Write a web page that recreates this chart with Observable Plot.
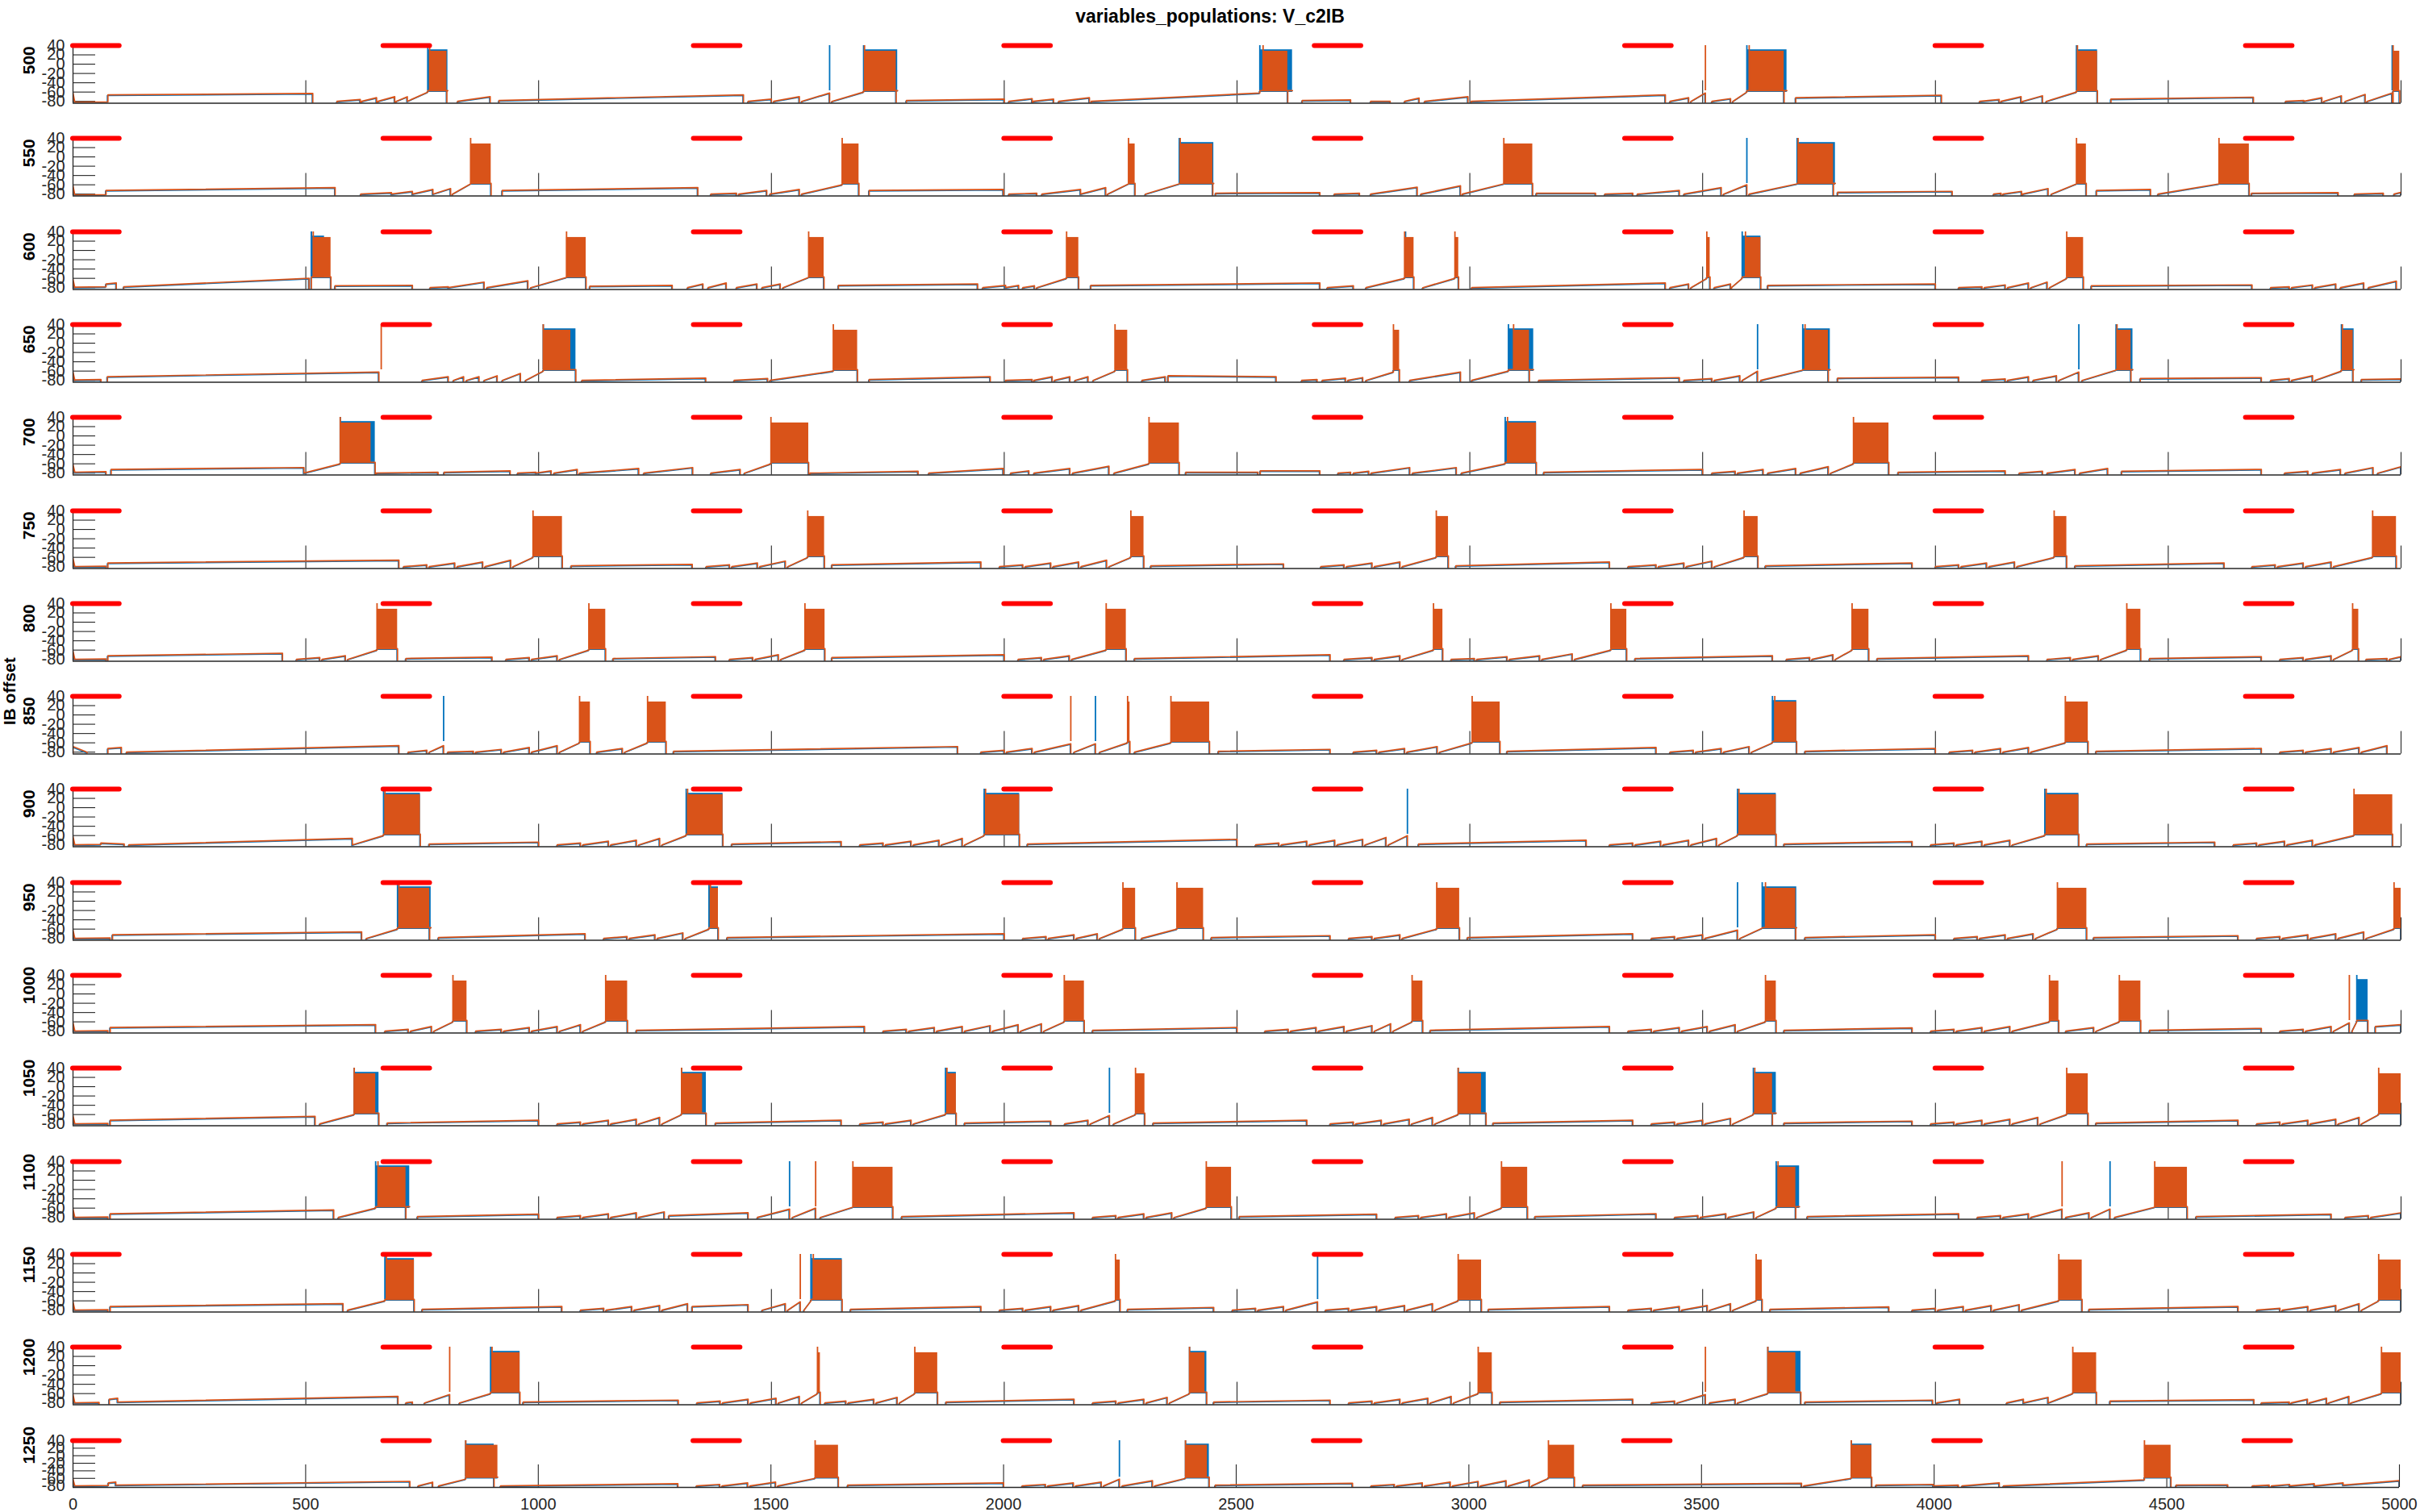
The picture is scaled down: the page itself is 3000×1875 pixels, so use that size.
<!DOCTYPE html>
<html><head><meta charset="utf-8">
<script src="https://cdn.jsdelivr.net/npm/d3@7"></script>
<script src="https://cdn.jsdelivr.net/npm/@observablehq/plot@0.6"></script>
<style>
body{margin:0;background:#fff;}
#fig{position:relative;width:3000px;height:1875px;overflow:hidden;font-family:"Liberation Sans",Arial,Helvetica,sans-serif;background:#fff;}
#title{position:absolute;left:0;width:3000px;top:6px;text-align:center;font-weight:bold;font-size:23px;color:#000;line-height:28px;}
.row{position:absolute;left:0;}
</style></head><body><div id="fig"><div id="title">variables_populations: V_c2IB</div></div>
<script>
// ---------------- DATA ----------------
const offsets = [500,550,600,650,700,750,800,850,900,950,1000,1050,1100,1150,1200,1250];
const ibLabel = "IB offset", ibLabelRow = 850;
const xTickLabels = [0,500,1000,1500,2000,2500,3000,3500,4000,4500,5000];
const xTickInner = [500,1000,1500,2000,2500,3000,3500,4000,4500,5000];
const yTickLabels = [40,20,0,-20,-40,-60,-80];
const yTickInner = [40,20,0,-20,-40,-60,-80];
const stimStart = [0,666.7,1333.3,2000,2666.7,3333.3,4000,4666.7];
const stimLen = 100, stimLevel = 40;
const yMin = -84, yMax = 40;
const toothBase = -80, burstLow = -57, burstTop = 28, burstTopB = 31, spikeTop = 40, floorV = -90;

// plateaus: [t0, t1, v0, v1]
const plateaus = [
 [[0,4,-62,-82],[4,75,-82,-81],[75,515,-66,-63],[915,1440,-78,-66],[1790,2000,-78,-75],[2187,2549,-80,-62],[2640,2744,-78,-77],[3003,3420,-80,-66],[3700,4013,-72,-67],[4377,4683,-75,-71]],
 [[0,4,-62,-82],[4,71,-82,-81],[71,563,-72,-66],[922,1342,-72,-66],[1710,1998,-72,-70],[2454,2678,-78,-77],[3143,3270,-78,-78],[3790,4036,-76,-74],[4346,4462,-72,-70],[4679,4865,-78,-77]],
 [[0,4,-62,-80],[4,71,-79,-78],[71,93,-72,-70],[109,507,-78,-60],[563,729,-76,-75],[1110,1287,-77,-75],[1644,1943,-75,-72],[2186,2678,-75,-70],[3004,3420,-80,-70],[3640,4000,-75,-72],[4335,4680,-76,-74]],
 [[0,4,-62,-80],[4,60,-79,-78],[74,657,-72,-62],[1093,1359,-80,-75],[1710,1970,-78,-72],[2352,2584,-70,-72],[3148,3450,-80,-74],[3790,4050,-75,-73],[4440,4700,-76,-74],[4915,5000,-78,-77]],
 [[0,4,-62,-78],[4,71,-78,-77],[82,496,-72,-68],[651,784,-80,-78],[797,939,-78,-75],[1088,1215,-80,-70],[1583,1815,-80,-76],[1838,1998,-80,-70],[2390,2545,-78,-78],[2550,2678,-75,-75],[3159,3500,-78,-72],[3920,4150,-78,-75],[4400,4700,-76,-72]],
 [[0,4,-62,-80],[4,71,-80,-79],[75,700,-72,-66],[1070,1330,-78,-75],[1630,1950,-76,-70],[2315,2600,-78,-74],[2970,3300,-78,-70],[3635,3950,-78,-72],[4300,4620,-78,-72]],
 [[0,4,-62,-80],[4,71,-80,-79],[75,450,-72,-67],[715,900,-78,-75],[1160,1380,-78,-74],[1630,2000,-76,-70],[2280,2700,-78,-70],[3355,3650,-78,-72],[3875,4200,-78,-72],[4460,4700,-78,-74]],
 [[0,30,-68,-80],[75,104,-72,-70],[115,700,-80,-66],[1290,1900,-78,-68],[2460,2700,-78,-74],[3080,3400,-78,-70],[3720,4000,-78,-72],[4345,4700,-78,-72]],
 [[0,4,-62,-80],[4,60,-80,-79],[60,110,-76,-78],[120,600,-80,-66],[765,1000,-78,-74],[1415,1650,-78,-73],[2050,2500,-78,-68],[2890,3250,-78,-70],[3675,3950,-78,-73],[4325,4600,-78,-74]],
 [[0,4,-62,-80],[4,80,-80,-79],[85,620,-72,-66],[785,1100,-78,-70],[1405,2000,-78,-70],[2445,2700,-78,-74],[2995,3350,-78,-70],[3720,4000,-78,-72],[4340,4650,-78,-74]],
 [[0,4,-62,-80],[4,75,-80,-79],[80,650,-72,-66],[1210,1700,-78,-70],[2190,2500,-78,-72],[2915,3300,-78,-70],[3675,3950,-78,-73],[4460,4700,-78,-74],[4945,5000,-70,-66]],
 [[0,4,-62,-80],[4,75,-80,-79],[80,520,-72,-64],[675,1000,-78,-72],[1380,1650,-78,-72],[1915,2100,-78,-74],[2320,2650,-78,-72],[3050,3350,-78,-72],[3675,3950,-78,-74],[4345,4650,-78,-72]],
 [[0,4,-62,-80],[4,75,-80,-79],[80,560,-72,-64],[740,1000,-78,-73],[1280,1450,-76,-70],[1780,2150,-78,-70],[2505,2800,-78,-73],[3140,3400,-78,-72],[3725,4050,-78,-72],[4560,4850,-78,-73]],
 [[0,4,-62,-80],[4,75,-80,-79],[80,580,-72,-66],[750,1050,-78,-72],[1330,1450,-72,-68],[1670,1950,-78,-72],[2265,2450,-78,-74],[3040,3300,-78,-72],[3645,3900,-78,-73],[4330,4650,-78,-72]],
 [[0,4,-62,-80],[4,56,-80,-79],[78,96,-72,-70],[96,698,-78,-66],[967,1300,-78,-74],[1875,2150,-78,-72],[2450,2700,-78,-74],[3065,3350,-78,-72],[3720,3994,-78,-74],[4375,4684,-76,-73]],
 [[0,4,-62,-80],[4,76,-80,-79],[76,92,-72,-70],[92,724,-78,-68],[919,1300,-80,-74],[1665,2000,-78,-72],[2455,2750,-78,-73],[3245,3715,-78,-73],[3875,3998,-78,-76],[4149,4452,-80,-64],[4520,4631,-78,-77],[4879,5000,-78,-66]]
];

// sawtooth teeth: [t0, t1, value at t1]
const teeth = [
 [[567,617,-76],[620,652,-72],[655,691,-70],[694,718,-70],[718,762,-60],[826,896,-70],[1450,1500,-75],[1505,1560,-70],[1565,1625,-62],[1630,1698,-60],[2010,2060,-74],[2062,2106,-75],[2117,2183,-72],[2787,2829,-80],[2860,2891,-73],[2903,2996,-70],[3430,3470,-72],[3475,3506,-62],[3520,3560,-74],[3565,3595,-60],[4095,4137,-76],[4141,4184,-70],[4187,4230,-68],[4238,4303,-60],[4752,4791,-78],[4791,4830,-72],[4834,4872,-68],[4880,4923,-65],[4927,4981,-62]],
 [[618,684,-77],[684,729,-74],[729,773,-70],[773,811,-68],[815,854,-58],[1370,1425,-78],[1430,1490,-72],[1497,1560,-70],[1565,1652,-60],[2010,2070,-78],[2081,2164,-70],[2164,2218,-66],[2222,2267,-58],[2303,2376,-58],[2709,2763,-78],[2787,2887,-65],[2895,2980,-62],[2984,3073,-58],[3290,3350,-78],[3360,3450,-72],[3460,3540,-66],[3545,3595,-60],[3600,3703,-58],[4125,4141,-78],[4145,4185,-74],[4187,4242,-68],[4249,4303,-58],[4478,4609,-58],[4900,4962,-78],[4985,5000,-76]],
 [[767,806,-78],[806,883,-68],[889,977,-65],[983,1060,-58],[1320,1353,-72],[1364,1403,-70],[1425,1469,-72],[1480,1519,-72],[1525,1580,-58],[1954,2003,-75],[2003,2031,-75],[2040,2065,-76],[2070,2134,-60],[2694,2750,-76],[2777,2860,-60],[2899,2968,-60],[3430,3470,-72],[3475,3509,-60],[3525,3560,-72],[3562,3585,-60],[4050,4100,-78],[4105,4150,-74],[4155,4200,-70],[4205,4240,-68],[4245,4282,-60],[4720,4760,-78],[4765,4810,-74],[4815,4860,-72],[4870,4920,-70],[4930,4990,-66]],
 [[750,806,-72],[817,839,-72],[845,872,-72],[883,911,-70],[922,961,-65],[972,1010,-60],[1420,1492,-76],[1497,1633,-60],[2003,2060,-78],[2064,2103,-72],[2108,2141,-72],[2152,2180,-72],[2191,2238,-60],[2296,2346,-72],[2639,2672,-78],[2683,2733,-75],[2738,2770,-74],[2777,2836,-62],[2871,2980,-62],[3004,3083,-60],[3460,3520,-76],[3525,3580,-70],[3585,3618,-60],[3625,3715,-58],[4100,4150,-77],[4155,4200,-72],[4210,4260,-70],[4265,4308,-62],[4315,4388,-58],[4720,4760,-76],[4765,4810,-70],[4815,4872,-60]],
 [[496,574,-60],[955,994,-78],[994,1027,-75],[1033,1083,-72],[1226,1331,-68],[1370,1433,-72],[1442,1499,-60],[2014,2053,-75],[2064,2141,-70],[2147,2225,-65],[2236,2311,-60],[2717,2744,-78],[2750,2783,-76],[2788,2871,-68],[2877,2971,-68],[2982,3076,-60],[3520,3570,-76],[3575,3630,-72],[3640,3700,-70],[3710,3770,-66],[3775,3824,-60],[4180,4230,-76],[4240,4300,-72],[4310,4370,-70],[4750,4800,-76],[4810,4870,-72],[4880,4940,-68],[4950,5000,-66]],
 [[710,760,-76],[765,820,-72],[825,880,-70],[885,940,-66],[945,988,-60],[1360,1410,-76],[1415,1470,-72],[1475,1530,-68],[1535,1578,-60],[1990,2040,-76],[2045,2100,-72],[2105,2160,-70],[2165,2220,-66],[2225,2272,-60],[2680,2730,-76],[2735,2790,-72],[2795,2850,-70],[2855,2928,-60],[3340,3400,-76],[3405,3460,-72],[3465,3520,-68],[3525,3589,-60],[4000,4050,-76],[4055,4110,-72],[4115,4170,-70],[4175,4255,-60],[4680,4730,-76],[4735,4790,-72],[4795,4850,-70],[4855,4939,-60]],
 [[480,530,-76],[535,585,-72],[590,653,-60],[930,980,-76],[985,1040,-72],[1045,1108,-60],[1410,1460,-76],[1465,1515,-70],[1520,1572,-60],[2030,2080,-76],[2085,2140,-72],[2145,2219,-60],[2730,2790,-76],[2795,2850,-72],[2855,2922,-60],[2960,3010,-78],[3015,3080,-74],[3085,3150,-72],[3155,3220,-68],[3225,3303,-60],[3680,3730,-76],[3735,3780,-70],[3785,3821,-60],[4240,4290,-76],[4295,4350,-72],[4355,4411,-60],[4740,4790,-76],[4795,4850,-72],[4855,4896,-60],[4925,4970,-78],[4975,5000,-74]],
 [[720,760,-76],[765,796,-66],[805,860,-78],[865,920,-74],[925,980,-70],[985,1040,-66],[1045,1088,-60],[1125,1180,-72],[1185,1234,-60],[1950,2000,-76],[2005,2060,-72],[2065,2143,-62],[2150,2196,-62],[2205,2265,-60],[2280,2358,-60],[2750,2800,-76],[2805,2860,-72],[2865,2930,-68],[2935,3005,-60],[3430,3480,-76],[3485,3540,-72],[3545,3600,-68],[3605,3650,-60],[4030,4080,-76],[4085,4140,-72],[4145,4200,-70],[4205,4279,-60],[4740,4790,-76],[4795,4850,-72],[4855,4910,-70],[4915,4970,-66]],
 [[600,667,-60],[1040,1090,-76],[1095,1150,-72],[1155,1210,-70],[1215,1260,-66],[1265,1317,-60],[1690,1740,-76],[1745,1800,-72],[1805,1860,-70],[1865,1910,-66],[1915,1957,-60],[2540,2590,-76],[2595,2650,-72],[2655,2710,-70],[2715,2770,-68],[2775,2820,-64],[2825,2866,-60],[3300,3350,-76],[3355,3410,-72],[3415,3470,-70],[3475,3530,-66],[3535,3575,-60],[3990,4040,-76],[4045,4100,-72],[4105,4160,-70],[4165,4235,-60],[4640,4690,-76],[4695,4750,-72],[4755,4810,-70],[4815,4899,-60]],
 [[630,697,-60],[1140,1190,-76],[1195,1250,-72],[1255,1310,-68],[1315,1366,-60],[2040,2090,-76],[2095,2150,-72],[2155,2200,-70],[2205,2255,-60],[2295,2371,-60],[2740,2790,-76],[2795,2850,-72],[2855,2929,-60],[3390,3440,-76],[3445,3500,-72],[3505,3575,-62],[3580,3628,-58],[4040,4090,-76],[4095,4150,-72],[4155,4210,-70],[4215,4262,-60],[4690,4740,-76],[4745,4800,-72],[4805,4860,-70],[4865,4920,-66],[4925,4985,-60]],
 [[670,720,-76],[725,770,-70],[775,816,-60],[865,920,-76],[925,980,-72],[985,1040,-70],[1045,1090,-66],[1095,1144,-60],[1740,1790,-76],[1795,1850,-72],[1855,1910,-70],[1915,1970,-68],[1975,2030,-66],[2035,2080,-64],[2085,2129,-60],[2560,2610,-76],[2615,2670,-72],[2675,2730,-70],[2735,2790,-68],[2795,2830,-64],[2835,2876,-60],[3340,3390,-76],[3395,3450,-72],[3455,3510,-70],[3515,3570,-66],[3575,3635,-60],[3990,4040,-76],[4045,4100,-72],[4105,4160,-70],[4165,4245,-60],[4280,4340,-72],[4345,4395,-60],[4740,4790,-76],[4795,4850,-70],[4855,4889,-62],[4895,4905,-60]],
 [[530,604,-60],[1040,1090,-76],[1095,1150,-72],[1155,1210,-70],[1215,1260,-66],[1265,1307,-60],[1690,1740,-76],[1745,1800,-72],[1805,1874,-60],[2130,2180,-72],[2185,2226,-62],[2235,2282,-60],[2700,2750,-76],[2755,2810,-72],[2815,2870,-70],[2875,2920,-66],[2925,2975,-60],[3390,3440,-76],[3445,3500,-72],[3505,3560,-68],[3565,3609,-60],[3990,4040,-76],[4045,4100,-72],[4105,4160,-70],[4165,4220,-66],[4225,4282,-60],[4690,4740,-76],[4745,4800,-72],[4805,4860,-70],[4865,4910,-66],[4915,4952,-60]],
 [[570,650,-60],[1040,1090,-76],[1095,1150,-72],[1155,1210,-70],[1215,1270,-68],[1470,1539,-62],[1545,1595,-60],[1605,1675,-58],[2190,2240,-76],[2245,2300,-72],[2305,2360,-70],[2365,2434,-60],[2840,2890,-76],[2895,2950,-72],[2955,3010,-70],[3015,3068,-60],[3440,3490,-76],[3495,3550,-72],[3555,3610,-68],[3615,3658,-60],[4090,4140,-76],[4145,4200,-72],[4205,4272,-62],[4280,4330,-70],[4335,4375,-62],[4385,4471,-58],[4880,4930,-76],[4935,5000,-70]],
 [[590,670,-60],[1090,1140,-76],[1145,1200,-72],[1205,1260,-70],[1265,1320,-66],[1480,1530,-66],[1535,1562,-62],[1570,1585,-60],[1990,2040,-76],[2045,2100,-72],[2105,2160,-70],[2165,2239,-60],[2490,2540,-76],[2545,2600,-72],[2605,2673,-62],[2690,2740,-76],[2745,2800,-72],[2805,2860,-70],[2865,2920,-66],[2925,2975,-60],[3340,3390,-76],[3395,3450,-72],[3455,3510,-70],[3515,3560,-66],[3565,3615,-60],[3950,4000,-76],[4005,4060,-72],[4065,4120,-70],[4125,4180,-68],[4185,4265,-60],[4690,4740,-76],[4745,4800,-72],[4805,4860,-70],[4865,4910,-66],[4915,4952,-60]],
 [[715,729,-78],[755,809,-62],[830,897,-60],[1340,1390,-76],[1395,1450,-72],[1455,1510,-70],[1515,1560,-66],[1565,1599,-60],[1615,1660,-76],[1665,1720,-72],[1725,1770,-68],[1775,1808,-60],[2190,2240,-76],[2245,2300,-72],[2305,2350,-68],[2355,2398,-60],[2740,2790,-76],[2795,2850,-72],[2855,2910,-70],[2915,2960,-66],[2965,3018,-60],[3390,3440,-76],[3445,3506,-62],[3515,3570,-72],[3575,3640,-60],[4003,4052,-72],[4153,4189,-72],[4189,4242,-68],[4242,4295,-60],[4700,4760,-78],[4764,4799,-72],[4803,4840,-70],[4844,4888,-66],[4892,4958,-60]],
 [[742,773,-70],[786,844,-62],[1340,1390,-76],[1395,1450,-72],[1455,1510,-70],[1515,1595,-60],[2040,2090,-76],[2095,2150,-72],[2155,2210,-70],[2215,2249,-62],[2255,2320,-66],[2325,2391,-60],[2790,2840,-76],[2845,2900,-72],[2905,2960,-70],[2965,3020,-68],[3025,3080,-66],[3085,3130,-64],[3135,3171,-60],[3720,3822,-60],[3998,4052,-78],[4060,4140,-72],[4684,4720,-78],[4725,4764,-76],[4764,4817,-74],[4817,4879,-72]]
];

// orange bursts [start, end]
const burstsO = [
 [[766,803],[1700,1768],[2556,2609],[3600,3675],[4305,4348],[4983,4997]],
 [[854,898],[1652,1688],[2267,2281],[2378,2448],[3073,3135],[3705,3781],[4303,4324],[4609,4674]],
 [[516,554],[1060,1102],[1580,1613],[2134,2160],[2860,2880],[2968,2976],[3509,3516],[3592,3625],[4282,4318]],
 [[1010,1069],[1633,1685],[2238,2265],[2836,2849],[3094,3128],[3720,3770],[4390,4420],[4874,4897]],
 [[574,640],[1499,1580],[2311,2376],[3081,3143],[3824,3900]],
 [[988,1051],[1578,1614],[2272,2300],[2928,2954],[3589,3619],[4255,4282],[4939,4990]],
 [[653,697],[1108,1144],[1572,1615],[2219,2262],[2922,2942],[3303,3337],[3821,3857],[4411,4441],[4896,4909]],
 [[1088,1111],[1234,1274],[2265,2270],[2358,2441],[3005,3065],[3655,3702],[4279,4328]],
 [[670,746],[1320,1396],[1960,2033],[3578,3658],[4238,4308],[4899,4982]],
 [[700,766],[1369,1386],[2255,2282],[2371,2428],[2929,2978],[3635,3700],[4262,4325],[4985,5000]],
 [[816,846],[1144,1191],[2129,2172],[2876,2899],[3635,3658],[4245,4265],[4395,4441]],
 [[604,650],[1307,1352],[1877,1897],[2282,2302],[2975,3025],[3612,3650],[4282,4328],[4952,5000]],
 [[655,715],[1675,1761],[2434,2488],[3068,3124],[3662,3700],[4471,4541]],
 [[673,733],[1590,1652],[2239,2249],[2975,3025],[3615,3628],[4265,4315],[4952,5000]],
 [[900,960],[1599,1605],[1808,1857],[2398,2431],[3018,3048],[3640,3700],[4295,4346],[4958,5000]],
 [[844,913],[1595,1645],[2391,2438],[3171,3227],[3822,3866],[4452,4509]]
];
// blue bursts [start, end]
const burstsB = [
 [[762,805],[1698,1771],[2549,2619],[3595,3681],[4303,4348]],
 [[2376,2450],[3703,3785]],
 [[512,540],[3585,3625]],
 [[1010,1080],[3083,3137],[3715,3774],[4388,4424],[4872,4899]],
 [[574,649],[3076,3143]],
 [],
 [],
 [[3650,3702]],
 [[667,746],[1317,1396],[1957,2033],[3575,3658],[4235,4308]],
 [[697,769],[1366,1386],[3628,3702]],
 [[4905,4929]],
 [[604,657],[1307,1360],[1874,1897],[2975,3035],[3609,3658]],
 [[650,723],[3658,3708]],
 [[670,733],[1585,1652]],
 [[897,960],[2398,2435],[3640,3711]],
 [[844,905],[2391,2442],[3822,3866]]
];
// isolated single spikes
const spikesO = [[3506],[],[],[662],[],[],[],[2143],[],[],[4889],[],[1595,4272],[1562],[809,3506],[]];
const spikesB = [[1625,4981],[3595],[512,2862],[3618,4308],[],[],[],[796,2196],[2866],[3575],[],[2226],[1539,4375],[2673],[],[2249]];

// ---------------- DRAW ----------------
const colO = "#D95319", colB = "#0072BD", colStim = "#FF0000", axisCol = "#262626";
const fontFam = "'Liberation Sans', Arial, Helvetica, sans-serif";

function tracePoints(i) {
  const segs = [];
  plateaus[i].forEach(([a,b,v0,v1]) => segs.push({a,b,v0,v1}));
  teeth[i].forEach(([a,b,v]) => segs.push({a,b,v0:toothBase,v1:v}));
  burstsO[i].concat(burstsB[i]).forEach(([a,b]) => segs.push({a,b,v0:burstLow,v1:burstLow}));
  segs.sort((p,q) => p.a - q.a);
  const pts = [];
  let prevEnd = -Infinity;
  segs.forEach((s, k) => {
    if (s.a > prevEnd + 1) pts.push({t:s.a, v:floorV});
    pts.push({t:s.a, v:s.v0});
    pts.push({t:s.b, v:s.v1});
    const next = segs[k+1];
    if (!next || next.a > s.b + 1) pts.push({t:s.b, v:floorV});
    prevEnd = Math.max(prevEnd, s.b);
  });
  return pts;
}

const fig = document.getElementById("fig");
offsets.forEach((off, i) => {
  const last = i === offsets.length - 1;
  const y40 = 56 + 115.3 * i;
  const plotH = last ? 58 : 71.5;
  const mt = 20, mb = last ? 34 : 6, ml = 90, mr = last ? 26 : 24;
  const W = 3000;
  const pxY = plotH / (yMax - yMin);
  const pxX = (W - ml - mr) / 5000;
  const tickY = 28 / pxY, tickX = 28 / pxX;
  const pts = tracePoints(i);
  const labels = [{t: String(off), dx: -54}];
  if (off === ibLabelRow) labels.push({t: ibLabel, dx: -78});
  const marks = [
    Plot.ruleY(yTickInner, {y: d => d, x1: () => 0, x2: () => tickX, stroke: axisCol, strokeWidth: 1.1}),
    Plot.ruleX(xTickInner, {x: d => d, y1: () => yMin, y2: () => yMin + tickY, stroke: axisCol, strokeWidth: 1.1}),
    Plot.line(pts, {x: "t", y: "v", stroke: colB, strokeWidth: 1.4, clip: true, dx: -0.8, dy: 0.9}),
    Plot.rect(burstsB[i], {x1: d => d[0], x2: d => d[1], y1: () => burstLow, y2: () => burstTopB, fill: colB, clip: true}),
    Plot.ruleX(burstsB[i], {x: d => d[0], y1: () => burstLow, y2: () => spikeTop, stroke: colB, strokeWidth: 1.8, clip: true}),
    Plot.ruleX(spikesB[i], {x: d => d, y1: () => burstLow, y2: () => spikeTop, stroke: colB, strokeWidth: 1.8, clip: true}),
    Plot.line(pts, {x: "t", y: "v", stroke: colO, strokeWidth: 1.7, clip: true}),
    Plot.rect(burstsO[i], {x1: d => d[0], x2: d => d[1], y1: () => burstLow, y2: () => burstTop, fill: colO, clip: true}),
    Plot.ruleX(burstsO[i], {x: d => d[0], y1: () => burstLow, y2: () => spikeTop, stroke: colO, strokeWidth: 1.8, clip: true}),
    Plot.ruleX(spikesO[i], {x: d => d, y1: () => burstLow, y2: () => spikeTop, stroke: colO, strokeWidth: 1.8, clip: true}),
    Plot.ruleX([0], {y1: () => yMin, y2: () => yMax, stroke: axisCol, strokeWidth: 1.3}),
    Plot.ruleY([yMin], {x1: () => 0, x2: () => 5000, stroke: axisCol, strokeWidth: 1.3}),
    Plot.ruleY(stimStart, {y: () => stimLevel, x1: d => d, x2: d => d + stimLen, stroke: colStim, strokeWidth: 6, strokeLinecap: "round"}),
    Plot.axisY(yTickLabels, {tickSize: 0, tickPadding: 10, fontSize: 20, fill: axisCol, tickFormat: d => String(d), label: null})
  ];
  labels.forEach(l => marks.push(Plot.text([l], {text: "t", frameAnchor: "left", dx: l.dx, rotate: -90, fontWeight: "bold", fontSize: 21, fill: "#000"})));
  if (last) marks.push(Plot.axisX(xTickLabels, {tickSize: 0, tickPadding: 13, fontSize: 20, fill: axisCol, tickFormat: d => String(d), label: null}));
  const chart = Plot.plot({
    width: W, height: mt + plotH + mb,
    marginTop: mt, marginBottom: mb, marginLeft: ml, marginRight: mr,
    x: {domain: [0, 5000], label: null, ...(last ? {} : {axis: null})},
    y: {domain: [yMin, yMax], label: null},
    style: {fontFamily: fontFam, background: "transparent", overflow: "visible", color: axisCol},
    marks
  });
  const div = document.createElement("div");
  div.className = "row";
  div.style.top = (y40 - mt) + "px";
  div.appendChild(chart);
  fig.appendChild(div);
});
</script>
</body></html>
